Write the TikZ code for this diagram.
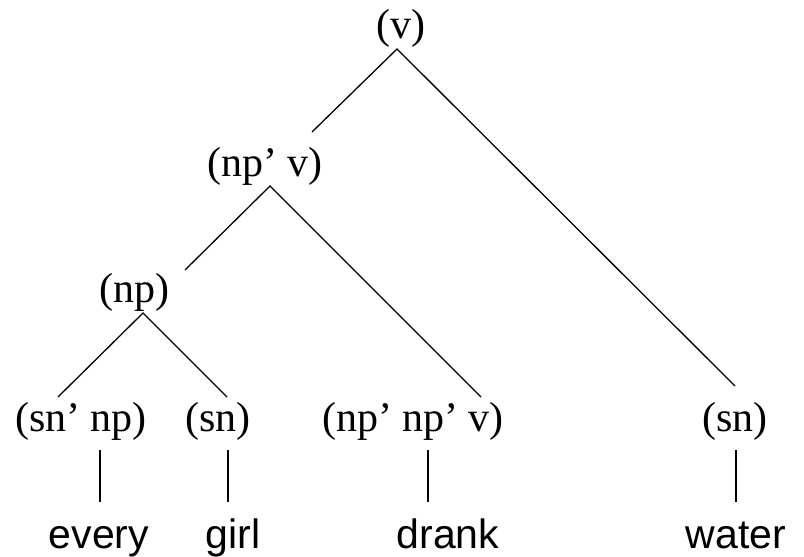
\documentclass[tikz,border=0pt]{standalone}
\usepackage{fontspec}
\setmainfont{Liberation Serif}
\newfontfamily\wordfont{Liberation Sans}
\usetikzlibrary{positioning}
\tikzset{
  catlabel/.style={anchor=base, inner sep=0pt, font=\fontsize{42}{50}\selectfont},
  wordlabel/.style={anchor=base, inner sep=0pt, font=\wordfont\fontsize{41}{49}\selectfont},
  branch/.style={line width=1.3pt}
}
\begin{document}
\begin{tikzpicture}[x=1pt, y=-1pt]
\useasboundingbox (0,0) rectangle (804,557);
% category labels
\node[catlabel] (v) at (401,38) {(v)};
\node[catlabel] (npv) at (265,176) {(np’ v)};
\node[catlabel] (np) at (134,302) {(np)};
\node[catlabel] (snnp) at (81,431) {(sn’ np)};
\node[catlabel] (sn) at (218,431) {(sn)};
\node[catlabel] (npnpv) at (413,431) {(np’ np’ v)};
\node[catlabel] (snw) at (735,431) {(sn)};
% words
\node[wordlabel] (every) at (99,548) {every};
\node[wordlabel] (girl) at (233,548) {girl};
\node[wordlabel] (drank) at (448,548) {drank};
\node[wordlabel] (water) at (736,548) {water};
% branch end points
\coordinate (v-s) at (397,49);
\coordinate (npv-n) at (312,132);
\coordinate (snw-n) at (735,386);
\coordinate (npv-s) at (270,186);
\coordinate (np-n) at (185,270);
\coordinate (npnpv-n) at (481,397);
\coordinate (np-s) at (143,313);
\coordinate (snnp-n) at (58,397);
\coordinate (sn-n) at (227,397);
\coordinate (snnp-s) at (100,450);
\coordinate (every-n) at (100,502);
\coordinate (sn-s) at (228,450);
\coordinate (girl-n) at (228,502);
\coordinate (npnpv-s) at (428,450);
\coordinate (drank-n) at (428,502);
\coordinate (snw-s) at (736,450);
\coordinate (water-n) at (736,502);
\draw[branch] (npv-n) -- (v-s) -- (snw-n);
\draw[branch] (np-n) -- (npv-s) -- (npnpv-n);
\draw[branch] (snnp-n) -- (np-s) -- (sn-n);
\draw[branch] (snnp-s) -- (every-n);
\draw[branch] (sn-s) -- (girl-n);
\draw[branch] (npnpv-s) -- (drank-n);
\draw[branch] (snw-s) -- (water-n);
\end{tikzpicture}
\end{document}
